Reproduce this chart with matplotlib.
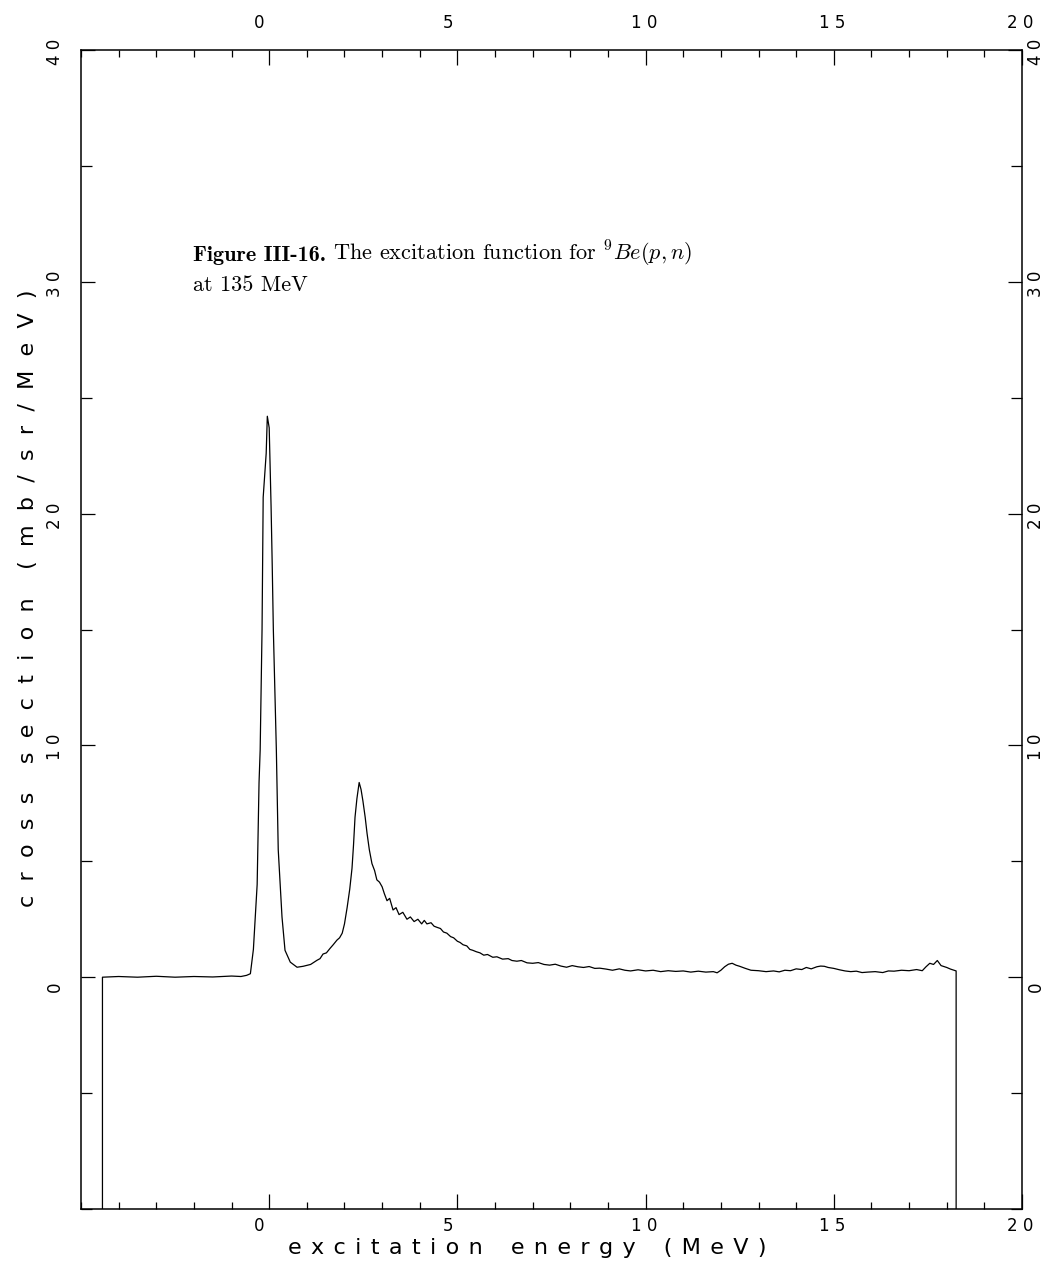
import matplotlib
matplotlib.use('Agg')
import matplotlib.pyplot as plt
from matplotlib.ticker import FixedLocator, MultipleLocator, FuncFormatter
from matplotlib.transforms import ScaledTranslation

# excitation energy (MeV) and cross section (mb/sr/MeV)
energy = [-4.43, -4.43, -4.0, -3.5, -3.0, -2.5, -2.0, -1.5, -1.0, -0.75,
          -0.6, -0.5, -0.42, -0.32, -0.27, -0.24, -0.19, -0.16, -0.08, -0.05,
          0.0, 0.05, 0.08, 0.11, 0.19, 0.24, 0.34, 0.42, 0.56, 0.74,
          0.90, 1.1, 1.27, 1.35, 1.43, 1.52, 1.62, 1.70, 1.80, 1.87,
          1.94, 2.0, 2.07, 2.14, 2.20, 2.24, 2.28, 2.33, 2.39, 2.44,
          2.49, 2.55, 2.60, 2.66, 2.73, 2.80, 2.86, 2.93, 3.00, 3.06,
          3.13, 3.2, 3.29, 3.37, 3.45, 3.55, 3.66, 3.75, 3.85, 3.95,
          4.05, 4.12, 4.19, 4.3, 4.38, 4.46, 4.55, 4.63, 4.72, 4.82,
          4.9, 5.0, 5.07, 5.15, 5.25, 5.33, 5.41, 5.5, 5.6, 5.7,
          5.8, 5.94, 6.05, 6.2, 6.35, 6.45, 6.58, 6.7, 6.85, 7.0,
          7.15, 7.3, 7.45, 7.6, 7.75, 7.90, 8.05, 8.2, 8.35, 8.5,
          8.65, 8.78, 8.95, 9.12, 9.3, 9.45, 9.6, 9.8, 10.0, 10.2,
          10.4, 10.6, 10.8, 11.0, 11.2, 11.4, 11.6, 11.8, 11.9, 12.0,
          12.1, 12.2, 12.3, 12.4, 12.5, 12.65, 12.8, 13.0, 13.2, 13.4,
          13.55, 13.7, 13.85, 14.0, 14.15, 14.27, 14.4, 14.55, 14.65, 14.75,
          14.85, 15.0, 15.15, 15.3, 15.45, 15.6, 15.75, 15.9, 16.1, 16.3,
          16.45, 16.6, 16.8, 17.0, 17.2, 17.35, 17.45, 17.55, 17.65, 17.75,
          17.85, 18.0, 18.1, 18.2, 18.25, 18.25]
xsec = [-10.5, 0.0, 0.03, 0.0, 0.04, 0.0, 0.03, 0.01, 0.05, 0.03,
        0.08, 0.15, 1.2, 4.0, 8.4, 9.8, 15.0, 20.7, 22.6, 24.2,
        23.7, 20.3, 17.8, 15.0, 9.8, 5.5, 2.6, 1.16, 0.65, 0.43,
        0.47, 0.55, 0.73, 0.8, 1.0, 1.05, 1.25, 1.4, 1.6, 1.7,
        1.9, 2.3, 3.0, 3.8, 4.7, 5.7, 6.9, 7.7, 8.4, 8.1,
        7.6, 6.9, 6.2, 5.5, 4.9, 4.6, 4.2, 4.1, 3.9, 3.6,
        3.3, 3.4, 2.9, 3.0, 2.7, 2.8, 2.5, 2.6, 2.4, 2.5,
        2.3, 2.45, 2.3, 2.35, 2.2, 2.15, 2.1, 1.95, 1.9, 1.75,
        1.7, 1.55, 1.5, 1.4, 1.35, 1.2, 1.16, 1.1, 1.05, 0.95,
        0.98, 0.86, 0.88, 0.78, 0.8, 0.72, 0.69, 0.72, 0.62, 0.6,
        0.63, 0.55, 0.52, 0.56, 0.48, 0.43, 0.5, 0.45, 0.42, 0.46,
        0.38, 0.39, 0.35, 0.30, 0.36, 0.3, 0.27, 0.32, 0.27, 0.3,
        0.24, 0.28, 0.25, 0.27, 0.22, 0.26, 0.22, 0.24, 0.19, 0.3,
        0.45, 0.56, 0.6, 0.52, 0.47, 0.38, 0.30, 0.28, 0.24, 0.27,
        0.23, 0.3, 0.28, 0.36, 0.33, 0.42, 0.36, 0.45, 0.48, 0.47,
        0.42, 0.38, 0.32, 0.27, 0.24, 0.26, 0.2, 0.22, 0.24, 0.2,
        0.27, 0.26, 0.3, 0.28, 0.33, 0.28, 0.45, 0.6, 0.55, 0.72,
        0.5, 0.42, 0.35, 0.3, 0.27, -10.5]

x_major = [0, 5, 10, 15, 20]
y_major = [0, 10, 20, 30, 40]

xlabel = 'excitation energy (MeV)'
ylabel = 'cross section (mb/sr/MeV)'
caption_bold = 'Figure III-16.'
caption_rest = r' The excitation function for $^9Be(p,n)$'
caption_line2 = 'at 135 MeV'


def spaced(s, sep=' ', gap='   '):
    # spread letters out like the pen plotter lettering
    return gap.join(sep.join(word) for word in s.split(' '))


plt.rcParams['mathtext.fontset'] = 'cm'
plt.rcParams['font.family'] = 'DejaVu Sans'

fig = plt.figure(figsize=(10.5, 12.68), dpi=100)
ax = fig.add_axes([81/1050, 1 - 1209/1268, (1022 - 81)/1050, (1209 - 50)/1268])

ax.plot(energy, xsec, color='black', lw=0.9)
ax.set_xlim(-5, 20)
ax.set_ylim(-10, 40)

ax.xaxis.set_major_locator(FixedLocator(x_major))
ax.xaxis.set_minor_locator(MultipleLocator(1))
ax.yaxis.set_major_locator(FixedLocator(y_major))
ax.yaxis.set_minor_locator(MultipleLocator(5))
fmt = FuncFormatter(lambda v, p: ' '.join(str(int(round(v)))))
ax.xaxis.set_major_formatter(fmt)
ax.yaxis.set_major_formatter(fmt)

for s in ax.spines.values():
    s.set_linewidth(1.1)

ax.tick_params(which='both', direction='in', top=True, right=True,
               labeltop=True, labelright=True, width=0.9, labelsize=12)
ax.tick_params(axis='x', which='major', length=10.5, pad=6)
ax.tick_params(axis='x', which='minor', length=5)
ax.tick_params(axis='y', which='major', length=10, labelrotation=90)
ax.tick_params(axis='y', which='minor', length=8)

ax.set_xlabel(spaced(xlabel, ' \u200a', ' \u200a \u200a \u200a'), fontsize=16, va='center')
ax.xaxis.set_label_coords((527 - 81)/941, (1209 - 1248)/1159)
ax.set_ylabel(spaced(ylabel, '  ', '    '), fontsize=16, va='center')
ax.yaxis.set_label_coords((28 - 81)/941, (1209 - 598)/1159)

# tick labels start a little before the tick, as on the original plotter
dx = ScaledTranslation(-15/100, 0, fig.dpi_scale_trans)
dy = ScaledTranslation(0, -15/100, fig.dpi_scale_trans)
up = ScaledTranslation(0, 10/100, fig.dpi_scale_trans)
left = ScaledTranslation(-12/100, 0, fig.dpi_scale_trans)
for t in ax.xaxis.get_major_ticks():
    t.label1.set_ha('left')
    t.label1.set_transform(t.label1.get_transform() + dx)
    t.label2.set_ha('left')
    t.label2.set_transform(t.label2.get_transform() + dx + up)
for t in ax.yaxis.get_major_ticks():
    t.label1.set_va('bottom')
    t.label1.set_transform(t.label1.get_transform() + dy + left)
    t.label2.set_va('bottom')
    t.label2.set_transform(t.label2.get_transform() + dy)

t1 = ax.text(-2.02, 30.9, caption_bold, family='cmb10', fontsize=16, va='baseline')
fig.canvas.draw()
w = t1.get_window_extent().width
ax.text(-2.02, 30.9, caption_rest, family='cmr10', fontsize=16, va='baseline',
        transform=ax.transData + ScaledTranslation(w/100, 0, fig.dpi_scale_trans))
ax.text(-2.02, 29.6, caption_line2, family='cmr10', fontsize=16, va='baseline')

fig.savefig('out.png', dpi=100)
